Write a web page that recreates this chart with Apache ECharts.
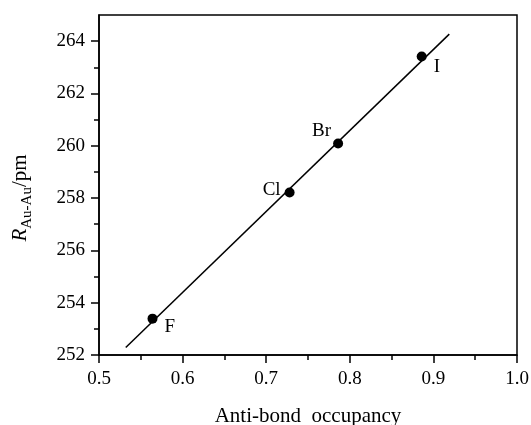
<!DOCTYPE html>
<html>
<head>
<meta charset="utf-8">
<script src="https://cdn.jsdelivr.net/npm/echarts@6/dist/echarts.min.js"></script>
<style>html,body{margin:0;padding:0;background:#fff}#c{width:531px;height:425px}</style>
</head>
<body>
<div id="c"></div>
<script>
var halides = ['F', 'Cl', 'Br', 'I'];
var occupancy = [0.564, 0.728, 0.786, 0.886];
var distance = [253.39, 258.21, 260.09, 263.41];
var fitX = [0.532, 0.919];
var fitY = [252.29, 264.27];
var yMajorTicks = [252, 254, 256, 258, 260, 262, 264];
var yMinorTicks = [253, 255, 257, 259, 261, 263];
var labelPos = ['right', 'left', 'left', 'right'];
var labelOffsets = [[2, 8], [1, -3], [3, -12], [2, 10]];

var FONT = '"Liberation Serif", "Times New Roman", serif';
var chart = echarts.init(document.getElementById('c'), null, {renderer: 'canvas'});

var scatterData = occupancy.map(function (x, i) {
  return {
    name: halides[i],
    value: [x, distance[i]],
    label: {position: labelPos[i], offset: labelOffsets[i]}
  };
});

var lineStyleK = {color: '#000', width: 1.5};

chart.setOption({
  animation: false,
  backgroundColor: '#fff',
  grid: {left: 99, right: 14, top: 15, bottom: 70, show: true, borderColor: '#000', borderWidth: 1.5,
    outerBoundsMode: 'none', containLabel: false},
  graphic: [{
    type: 'text',
    x: 24, y: 198,
    rotation: Math.PI / 2,
    style: {
      text: '{i|R}{s|Au-Au}{n|/pm}',
      align: 'center', verticalAlign: 'middle',
      fill: '#000',
      rich: {
        i: {fontFamily: FONT, fontSize: 21, fontStyle: 'italic', fill: '#000', lineHeight: 21, padding: [0, 0, 4, 0], verticalAlign: 'bottom'},
        s: {fontFamily: FONT, fontSize: 15, fill: '#000', lineHeight: 15, verticalAlign: 'bottom'},
        n: {fontFamily: FONT, fontSize: 21, fill: '#000', lineHeight: 21, padding: [0, 0, 4, 0], verticalAlign: 'bottom'}
      }
    }
  }],
  xAxis: {
    type: 'value', min: 0.5, max: 1.0, interval: 0.1,
    name: 'Anti-bond  occupancy', nameLocation: 'middle', nameGap: 51,
    nameTextStyle: {fontFamily: FONT, fontSize: 21, color: '#000'},
    axisLine: {show: true, onZero: false, lineStyle: lineStyleK},
    axisTick: {show: true, inside: false, length: 8, lineStyle: lineStyleK},
    minorTick: {show: true, splitNumber: 2, length: 5, lineStyle: lineStyleK},
    splitLine: {show: false},
    axisLabel: {fontFamily: FONT, fontSize: 19, color: '#000', margin: 15,
      formatter: function (v) { return v.toFixed(1); }}
  },
  yAxis: [{
    type: 'value', min: 252, max: 265, interval: 1, position: 'left',
    axisLine: {show: true, onZero: false, lineStyle: lineStyleK},
    axisTick: {show: true, inside: false, length: 8, lineStyle: lineStyleK, customValues: yMajorTicks},
    splitLine: {show: false},
    axisLabel: {fontFamily: FONT, fontSize: 19, color: '#000', margin: 14, customValues: yMajorTicks,
      formatter: function (v) { return String(v); }}
  }, {
    type: 'value', min: 252, max: 265, interval: 1, position: 'left', offset: 0,
    axisLine: {show: false},
    axisTick: {show: true, inside: false, length: 5, lineStyle: lineStyleK, customValues: yMinorTicks},
    axisLabel: {show: false},
    splitLine: {show: false}
  }],
  series: [
    {
      type: 'line',
      data: fitX.map(function (x, i) { return [x, fitY[i]]; }),
      symbol: 'none',
      lineStyle: {color: '#000', width: 1.5},
      z: 2
    },
    {
      type: 'scatter',
      data: scatterData,
      symbol: 'circle',
      symbolSize: 10,
      itemStyle: {color: '#000', opacity: 1},
      label: {show: true, formatter: '{b}', fontFamily: FONT, fontSize: 19, color: '#000'},
      z: 3
    }
  ]
});
</script>
</body>
</html>
